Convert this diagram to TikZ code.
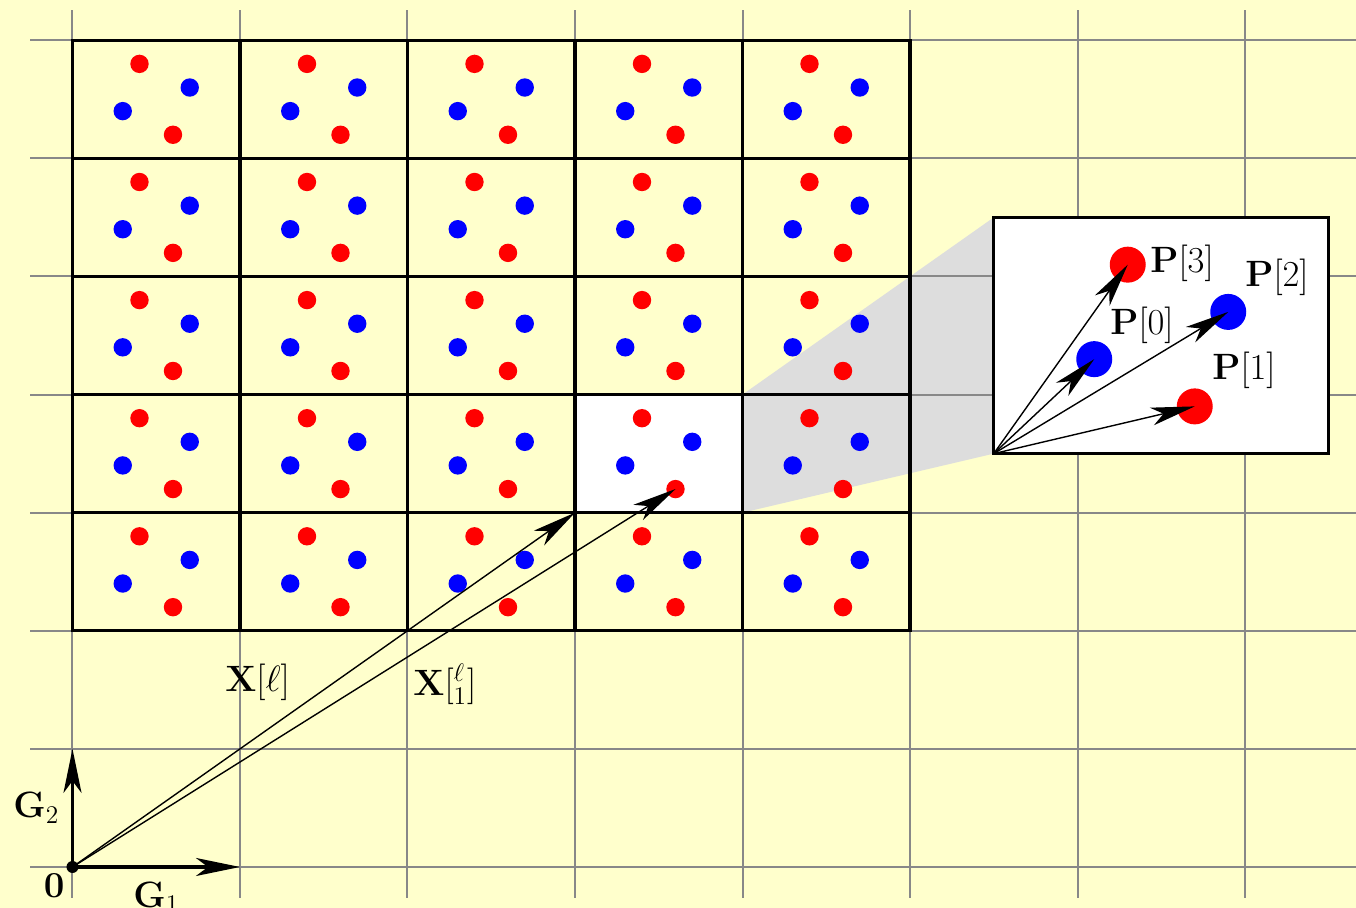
\documentclass[tikz,border=0pt]{standalone}
\usetikzlibrary{arrows.meta}
\definecolor{bgyellow}{RGB}{255,255,204}
\definecolor{wedgegray}{RGB}{221,221,221}
\definecolor{gridgray}{RGB}{136,136,136}
\tikzset{
  gridline/.style={draw=gridgray, line width=1pt},
  blockline/.style={draw=black, line width=1.6pt},
  reddot/.style={circle, fill=red, inner sep=0pt, minimum size=9.2pt},
  bluedot/.style={circle, fill=blue, inner sep=0pt, minimum size=9.2pt},
  bigred/.style={circle, fill=red, inner sep=0pt, minimum size=18pt},
  bigblue/.style={circle, fill=blue, inner sep=0pt, minimum size=18pt},
  tip/.tip={Stealth[length=22pt,width=9pt,inset=6pt]},
  thinarrow/.style={draw=black, line width=0.7pt, -tip},
  thickarrow/.style={draw=black, line width=1.6pt, -tip},
  lab/.style={inner sep=0pt, anchor=base west, scale=1.06, transform shape},
}
\begin{document}
\begin{tikzpicture}[x=83.75pt, y=59.05pt, font=\LARGE]
\useasboundingbox (-0.4328,-0.3472) rectangle (7.6627,7.3412);
\fill[bgyellow] (-0.4328,-0.3472) rectangle (7.6627,7.3412);
% wedge
\fill[wedgegray] (4,3) -- (4,4) -- (5.5,5.5) -- (5.5,3.5) -- cycle;
% grid
\foreach \i in {0,...,7} \draw[gridline] (\i,-0.2625) -- (\i,7.2566);
\foreach \j in {0,...,7} \draw[gridline] (-0.2537,\j) -- (7.6627,\j);
% white cell
\fill[white] (3,3) rectangle (4,4);
% block
\foreach \i in {0,...,5} \draw[blockline, line cap=rect] (\i,2) -- (\i,7);
\foreach \j in {2,...,7} \draw[blockline, line cap=rect] (0,\j) -- (5,\j);
% dots
\foreach \i in {0,...,4} {
  \foreach \j in {2,...,6} {
    \node[bluedot] (p0-\i-\j) at (\i+0.3,\j+0.4) {};
    \node[reddot]  (p1-\i-\j) at (\i+0.6,\j+0.2) {};
    \node[bluedot] (p2-\i-\j) at (\i+0.7,\j+0.6) {};
    \node[reddot]  (p3-\i-\j) at (\i+0.4,\j+0.8) {};
  }
}
% origin and basis vectors
\node[circle, fill=black, inner sep=0pt, minimum size=6pt] (O) at (0,0) {};
\coordinate (G1end) at (1,0);
\coordinate (G2end) at (0,1);
\coordinate (C33) at (3,3);
\draw[thickarrow] (O.center) -- (G1end);
\draw[thickarrow] (O.center) -- (G2end);
\draw[thinarrow] (O.center) -- (C33);
\draw[thinarrow] (O.center) -- (p1-3-3.center);
% inset
\coordinate (I) at (5.5,3.5);
\coordinate (Itr) at (7.5,5.5);
\draw[blockline, fill=white] (I) rectangle (Itr);
\node[bigblue] (P0) at (6.1,4.3) {};
\node[bigred]  (P1) at (6.7,3.9) {};
\node[bigblue] (P2) at (6.9,4.7) {};
\node[bigred]  (P3) at (6.3,5.1) {};
\draw[thinarrow] (I) -- (P0.center);
\draw[thinarrow] (I) -- (P1.center);
\draw[thinarrow] (I) -- (P2.center);
\draw[thinarrow] (I) -- (P3.center);
% labels
\node[inner sep=0pt, anchor=base, scale=1.06, transform shape] (l0) at (-0.110,-0.262) {$\mathbf{0}$};
\node[lab] (lG1) at (0.361,-0.339) {$\mathbf{G}_1$};
\node[lab] (lG2) at (-0.355,0.415) {$\mathbf{G}_2$};
\node[lab] (lX) at (0.910,1.490) {$\mathbf{X}[\ell]$};
\node[lab] (lX1) at (2.033,1.456) {$\mathbf{X}[^{\ell}_{1}]$};
\node[lab] (lP3) at (6.433,5.030) {$\mathbf{P}[3]$};
\node[lab] (lP2) at (7.000,4.911) {$\mathbf{P}[2]$};
\node[lab] (lP0) at (6.194,4.505) {$\mathbf{P}[0]$};
\node[lab] (lP1) at (6.803,4.124) {$\mathbf{P}[1]$};
\end{tikzpicture}
\end{document}
